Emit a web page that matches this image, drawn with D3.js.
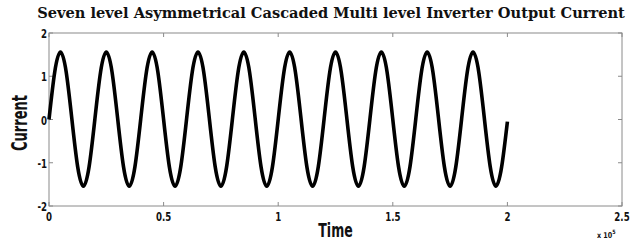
<!DOCTYPE html>
<html>
<head>
<meta charset="utf-8">
<script src="https://cdn.jsdelivr.net/npm/d3@7"></script>
<style>
    body { margin: 0; background: #fff; }
</style>
</head>
<body>
<div id="chart"></div>
<script>
// samples (time in units of 1e5)
var time = [
    0, 0.025, 0.05, 0.075, 0.1, 0.125, 0.15, 0.175,
    0.2, 0.225, 0.25, 0.275, 0.3, 0.325, 0.35, 0.375,
    0.4, 0.425, 0.45, 0.475, 0.5, 0.525, 0.55, 0.575,
    0.6, 0.625, 0.65, 0.675, 0.7, 0.725, 0.75, 0.775,
    0.8, 0.825, 0.85, 0.875, 0.9, 0.925, 0.95, 0.975,
    1.0, 1.025, 1.05, 1.075, 1.1, 1.125, 1.15, 1.175,
    1.2, 1.225, 1.25, 1.275, 1.3, 1.325, 1.35, 1.375,
    1.4, 1.425, 1.45, 1.475, 1.5, 1.525, 1.55, 1.575,
    1.6, 1.625, 1.65, 1.675, 1.7, 1.725, 1.75, 1.775,
    1.8, 1.825, 1.85, 1.875, 1.9, 1.925, 1.95, 1.975,
    2.0
];
var current = [
    0, 1.1, 1.56, 1.1, 0, -1.09, -1.54, -1.09,
    0, 1.1, 1.56, 1.1, 0, -1.09, -1.54, -1.09,
    0, 1.1, 1.56, 1.1, 0, -1.09, -1.54, -1.09,
    0, 1.1, 1.56, 1.1, 0, -1.09, -1.54, -1.09,
    0, 1.1, 1.56, 1.1, 0, -1.09, -1.54, -1.09,
    0, 1.1, 1.56, 1.1, 0, -1.09, -1.54, -1.09,
    0, 1.1, 1.56, 1.1, 0, -1.09, -1.54, -1.09,
    0, 1.1, 1.56, 1.1, 0, -1.09, -1.54, -1.09,
    0, 1.1, 1.56, 1.1, 0, -1.09, -1.54, -1.09,
    0, 1.1, 1.56, 1.1, 0, -1.09, -1.54, -1.09,
    -0.05
];
var xTicks = [0, 0.5, 1, 1.5, 2, 2.5];
var yTicks = [-2, -1, 0, 1, 2];
var title = "Seven level Asymmetrical Cascaded Multi level Inverter Output Current";

var width = 631, height = 243;
var margin = {top: 33, right: 9, bottom: 37, left: 49};
var axisColor = "#8a8a8a";
var labelFont = "'DejaVu Sans', sans-serif";

var svg = d3.select("#chart").append("svg")
    .attr("width", width)
    .attr("height", height);

var x = d3.scaleLinear().domain([0, 2.5]).range([margin.left, width - margin.right]);
var y = d3.scaleLinear().domain([-2, 2]).range([height - margin.bottom, margin.top]);

// narrow bold text: the original uses a condensed face, so squeeze DejaVu horizontally
function narrowText(parent, px, py, size, sx, anchor, rot) {
    var t = parent.append("text")
        .attr("transform", "translate(" + px + "," + py + ")" + (rot ? " rotate(" + rot + ")" : "") + " scale(" + sx + ",1)")
        .attr("text-anchor", anchor)
        .attr("font-family", labelFont)
        .attr("font-weight", "bold")
        .attr("font-size", size + "px")
        .attr("fill", "#111");
    return t;
}

// box
svg.append("rect")
    .attr("x", x(0)).attr("y", y(2))
    .attr("width", x(2.5) - x(0)).attr("height", y(-2) - y(2))
    .attr("fill", "none").attr("stroke", axisColor).attr("stroke-width", 1);

// small inward ticks on all four sides
var tickLen = 4;
var g = svg.append("g").attr("stroke", axisColor).attr("stroke-width", 1);
xTicks.forEach(function (t) {
    g.append("line").attr("x1", x(t)).attr("x2", x(t)).attr("y1", y(-2)).attr("y2", y(-2) - tickLen);
    g.append("line").attr("x1", x(t)).attr("x2", x(t)).attr("y1", y(2)).attr("y2", y(2) + tickLen);
});
yTicks.forEach(function (t) {
    g.append("line").attr("x1", x(0)).attr("x2", x(0) + tickLen).attr("y1", y(t)).attr("y2", y(t));
    g.append("line").attr("x1", x(2.5)).attr("x2", x(2.5) - tickLen).attr("y1", y(t)).attr("y2", y(t));
});

// tick labels
var tl = svg.append("g");
xTicks.forEach(function (d) {
    narrowText(tl, x(d), y(-2) + 15, 12, 0.72, "middle").text(d);
});
yTicks.forEach(function (d) {
    narrowText(tl, x(0) - 2, y(d) + 5, 12, 0.72, "end").text(d);
});

// x 10^5 multiplier
var mult = narrowText(svg, 597, 238, 8, 0.8, "start");
mult.append("tspan").text("x 10");
mult.append("tspan").attr("dy", -4).attr("font-size", "6px").text("5");

// the current trace
var pts = time.map(function (t, i) { return [t, current[i]]; });
var line = d3.line()
    .x(function (d) { return x(d[0]); })
    .y(function (d) { return y(d[1]); })
    .curve(d3.curveNatural);

svg.append("path")
    .datum(pts)
    .attr("d", line)
    .attr("fill", "none")
    .attr("stroke", "#000")
    .attr("stroke-width", 3.6)
    .attr("stroke-linejoin", "round");

// title
var titleText = svg.append("text")
    .attr("x", 331).attr("y", 18)
    .attr("text-anchor", "middle")
    .attr("font-family", "'DejaVu Serif', serif")
    .attr("font-weight", "bold")
    .attr("font-size", "11px")
    .attr("fill", "#111")
    .text(title);
var tw = titleText.node().getComputedTextLength();
titleText.attr("font-size", (11 * 588 / tw).toFixed(2) + "px");

// axis labels
narrowText(svg, (x(0) + x(2.5)) / 2, 237, 19, 0.66, "middle").text("Time");
narrowText(svg, 27, 123, 21, 0.62, "middle", -90).text("Current");
</script>
</body>
</html>
